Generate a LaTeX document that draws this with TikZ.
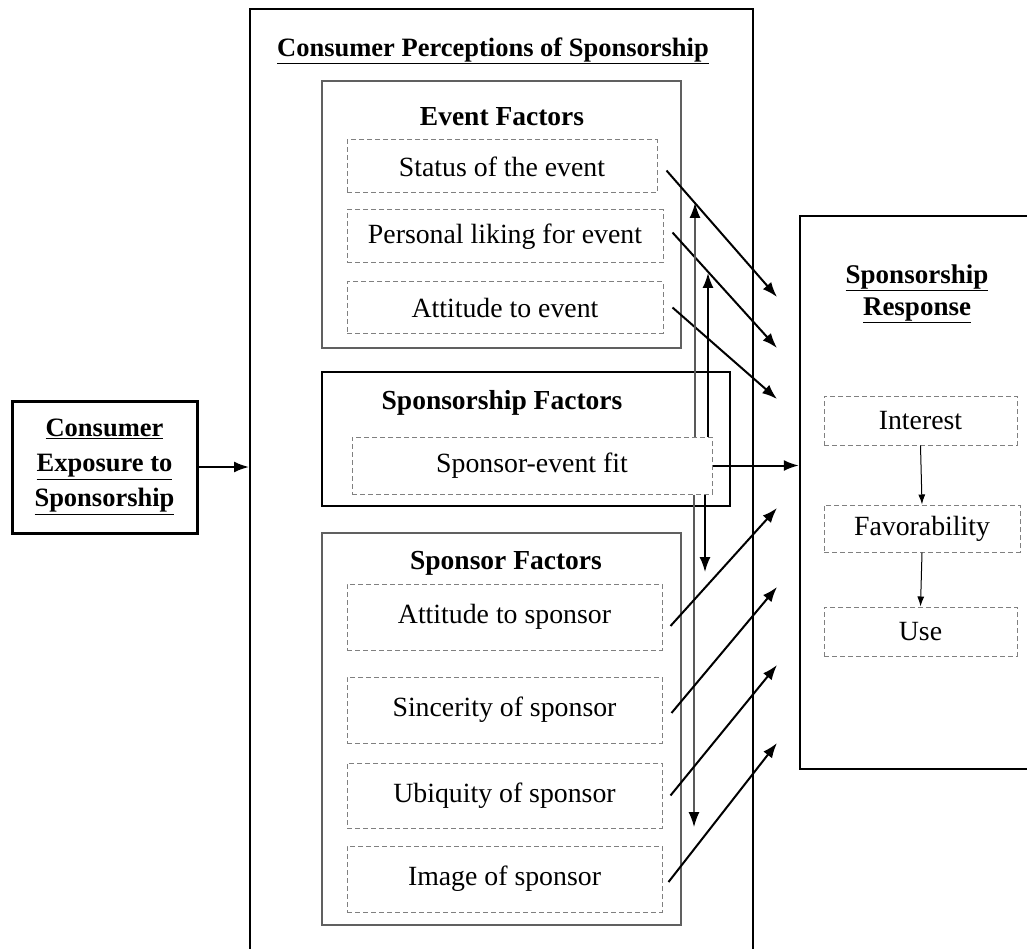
\documentclass[tikz,border=0pt]{standalone}
\usepackage{fontspec}
\setmainfont{Liberation Serif}
\usetikzlibrary{arrows.meta}

\begin{document}
\begin{tikzpicture}[x=1pt,y=-1pt,
    font=\fontsize{27.8}{33}\selectfont,
    frame/.style={draw,line width=2pt,inner sep=0pt},
    group/.style={draw=gray!75!black,line width=1.4pt,inner sep=0pt},
    item/.style={draw=gray,dashed,dash pattern=on 5pt off 3pt,line width=1pt,inner sep=0pt},
    head/.style={font=\fontsize{27.5}{33}\selectfont\bfseries},
    arr/.style={-{Latex[length=15pt,width=11pt]},line width=2pt},
    garr/.style={-{Latex[length=15pt,width=11pt,color=black]},draw=gray!70!black,line width=1.4pt},
    sarr/.style={-{Latex[length=10pt,width=7pt]},line width=1pt}]
    \useasboundingbox (0,0) rectangle (1027,949);

    \node[frame,minimum width=503pt,minimum height=955pt] (percep) at (501.5,486.5) {};
    \node[head,font=\fontsize{26.5}{33}\selectfont\bfseries] (ptitle) at (493,51)
        {\underline{Consumer Perceptions of Sponsorship}};

    \node[frame,line width=3pt,minimum width=185pt,minimum height=132pt,align=center,
          font=\fontsize{26.5}{35}\selectfont\bfseries] (expo) at (104.5,467)
        {\underline{Consumer}\\\underline{Exposure to}\\\underline{Sponsorship}};

    \node[group,minimum width=359pt,minimum height=267pt] (event) at (501.5,214.5) {};
    \node[head] (evtitle) at (502,117) {Event Factors};
    \node[item,minimum width=310pt,minimum height=53pt] (status) at (502,166.5) {Status of the event};
    \node[item,minimum width=316pt,minimum height=53pt] (liking) at (505,236.5) {Personal liking for event};
    \node[item,minimum width=316pt,minimum height=51pt] (attev) at (505,307.5) {Attitude to event};

    \node[group,draw=black,minimum width=408pt,minimum height=134pt] (spship) at (526,439) {};
    \node[head] (sptitle) at (502,403) {Sponsorship Factors};
    \node[item,minimum width=360pt,minimum height=57pt] (fit) at (532,465.5) {Sponsor-event fit};

    \node[group,minimum width=359pt,minimum height=392pt] (sponsor) at (501.5,729) {};
    \node[head] (sotitle) at (506,563) {Sponsor Factors};
    \node[item,minimum width=315pt,minimum height=66pt] (attsp) at (504.5,617) {Attitude to sponsor};
    \node[item,minimum width=315pt,minimum height=66pt] (sinc) at (504.5,710) {Sincerity of sponsor};
    \node[item,minimum width=315pt,minimum height=65pt] (ubiq) at (504.5,795.5) {Ubiquity of sponsor};
    \node[item,minimum width=315pt,minimum height=66pt] (image) at (504.5,879) {Image of sponsor};

    \node[frame,line width=2.5pt,minimum width=240pt,minimum height=553pt] (resp) at (920,492.5) {};
    \node[head,align=center,font=\fontsize{27}{32}\selectfont\bfseries] (rtitle) at (917,294)
        {\underline{Sponsorship}\\\underline{Response}};
    \node[item,minimum width=193pt,minimum height=49pt] (interest) at (920.5,420.5) {Interest};
    \node[item,minimum width=196pt,minimum height=47pt] (favor) at (922,528.5) {Favorability};
    \node[item,minimum width=193pt,minimum height=49pt] (use) at (920.5,631.5) {Use};

    \coordinate (r1) at (777,297);
    \coordinate (r2) at (777,348);
    \coordinate (r3) at (777,399);
    \coordinate (r5) at (777,508);
    \coordinate (r6) at (777,587);
    \coordinate (r7) at (777,665);
    \coordinate (r8) at (777,743);
    \coordinate (u1) at (695,203);
    \coordinate (u2) at (708,273);
    \coordinate (d1) at (705,572);
    \coordinate (d2) at (694,827);

    \draw[arr] (expo.east) -- (expo.east -| percep.west);

    \draw[arr] ([xshift=9pt,yshift=-4pt]status.east) -- (r1);
    \draw[arr] ([xshift=9pt,yshift=4pt]liking.east) -- (r2);
    \draw[arr] ([xshift=9pt]attev.east) -- (r3);

    \draw[arr] (fit.east) -- (fit.east -| resp.west);
    \draw[garr] (u1 |- fit.north) -- (u1);
    \draw[arr,line width=1.6pt] (u2 |- fit.north) -- (u2);
    \draw[arr,line width=1.6pt] (d1 |- fit.south) -- (d1);
    \draw[garr] (d2 |- fit.south) -- (d2);

    \draw[arr] ([xshift=8pt,yshift=-9pt]attsp.east) -- (r5);
    \draw[arr] ([xshift=9pt,yshift=-3pt]sinc.east) -- (r6);
    \draw[arr] ([xshift=8pt]ubiq.east) -- (r7);
    \draw[arr] ([xshift=6pt,yshift=-3pt]image.east) -- (r8);

    \draw[sarr] (interest.south) -- (favor.north);
    \draw[sarr] (favor.south) -- (use.north);
\end{tikzpicture}
\end{document}
